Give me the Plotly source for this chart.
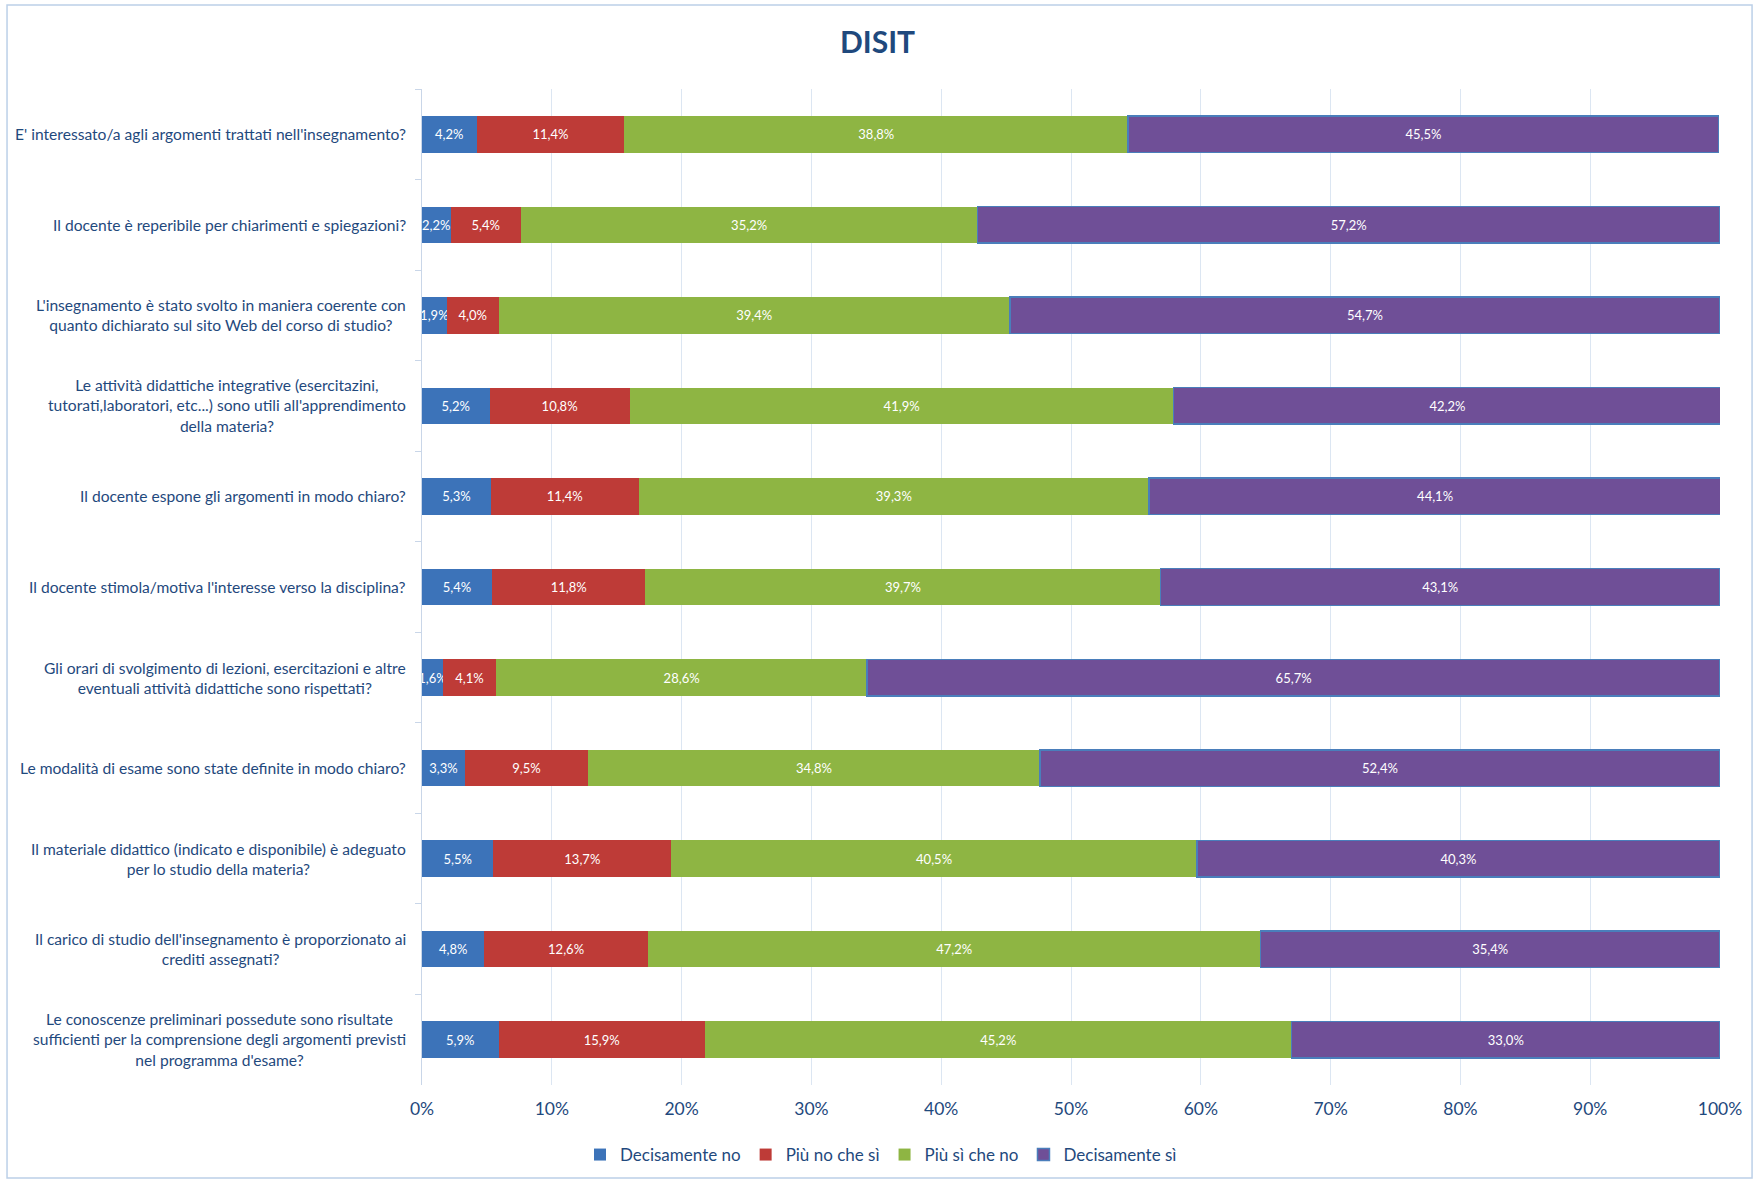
import plotly.graph_objects as go

categories = [
    "E' interessato/a agli argomenti trattati nell'insegnamento?",
    "Il docente è reperibile per chiarimenti e spiegazioni?",
    "L'insegnamento è stato svolto in maniera coerente con<br>quanto dichiarato sul sito Web del corso di studio?",
    "Le attività didattiche integrative (esercitazini,<br>tutorati,laboratori, etc...) sono utili all'apprendimento<br>della materia?",
    "Il docente espone gli argomenti in modo chiaro?",
    "Il docente stimola/motiva l'interesse verso la disciplina?",
    "Gli orari di svolgimento di lezioni, esercitazioni e altre<br>eventuali attività didattiche sono rispettati?",
    "Le modalità di esame sono state definite in modo chiaro?",
    "Il materiale didattico (indicato e disponibile) è adeguato<br>per lo studio della materia?",
    "Il carico di studio dell'insegnamento è proporzionato ai<br>crediti assegnati?",
    "Le conoscenze preliminari possedute sono risultate<br>sufficienti per la comprensione degli argomenti previsti<br>nel programma d'esame?",
]

decisamente_no = [4.2, 2.2, 1.9, 5.2, 5.3, 5.4, 1.6, 3.3, 5.5, 4.8, 5.9]
piu_no_che_si = [11.4, 5.4, 4.0, 10.8, 11.4, 11.8, 4.1, 9.5, 13.7, 12.6, 15.9]
piu_si_che_no = [38.8, 35.2, 39.4, 41.9, 39.3, 39.7, 28.6, 34.8, 40.5, 47.2, 45.2]
decisamente_si = [45.5, 57.2, 54.7, 42.2, 44.1, 43.1, 65.7, 52.4, 40.3, 35.4, 33.0]

series_names = ["Decisamente no", "Più no che sì", "Più sì che no", "Decisamente sì"]
series_values = [decisamente_no, piu_no_che_si, piu_si_che_no, decisamente_si]
colors = ["#3C73B9", "#BE3B37", "#8EB543", "#6F4F97"]
line_colors = [None, None, None, "#4A7EBB"]

TEXT = "#1F497D"
FONT = "Lato"

fig = go.Figure()
for name, vals, col, lc in zip(series_names, series_values, colors, line_colors):
    fig.add_trace(go.Bar(
        name=name,
        y=categories,
        x=vals,
        orientation="h",
        marker=dict(color=col, line=dict(color=lc if lc else col, width=1.5 if lc else 0)),
        texttemplate="%{x:.1f}%",
        textposition="inside",
        insidetextanchor="middle",
        textangle=0,
        textfont=dict(family=FONT, size=13, color="white"),
        cliponaxis=True,
    ))

for cat in categories:
    fig.add_annotation(
        x=0, xref="paper", y=cat, yref="y",
        text=cat, showarrow=False,
        xanchor="right", yanchor="middle", align="center",
        xshift=-14,
        font=dict(family=FONT, size=15.6, color=TEXT),
    )

fig.add_shape(type="rect", xref="paper", yref="paper",
              x0=-0.3197, x1=1.0247, y0=-0.0934, y1=1.0843,
              line=dict(color="#BCD0E8", width=1.5), fillcolor="rgba(0,0,0,0)", layer="below")

fig.update_layout(
    width=1755, height=1180,
    margin=dict(l=422, r=35, t=89, b=95),
    paper_bgcolor="white", plot_bgcolor="white",
    barmode="stack", bargap=0.596,
    separators=",.",
    uniformtext=dict(minsize=13, mode="show"),
    title=dict(text="<b>DISIT</b>", x=0.5, xref="container", xanchor="center",
               y=1 - 42.5 / 1180, yref="container", yanchor="middle",
               font=dict(family=FONT, size=30, color=TEXT)),
    font=dict(family=FONT, color=TEXT),
    showlegend=True,
    legend=dict(orientation="h", x=0.502, xanchor="center", xref="container",
                y=1 - 1155 / 1180, yanchor="middle", yref="container",
                font=dict(family=FONT, size=17, color=TEXT),
                itemwidth=30, traceorder="normal"),
    xaxis=dict(range=[0, 100], dtick=10, ticksuffix="%", showgrid=True,
               gridcolor="#DCE6F2", gridwidth=1, zeroline=False, showline=False,
               ticks="", ticklabelstandoff=11,
               tickfont=dict(family=FONT, size=17.5, color=TEXT)),
    yaxis=dict(autorange="reversed", showticklabels=False, ticks="outside",
               tickson="boundaries", ticklen=6, tickcolor="#C9D6E8",
               showline=True, linecolor="#C9D6E8", linewidth=1, showgrid=False,
               zeroline=False),
)

fig.write_html("out.html", config={"displayModeBar": False},
               post_script="document.body.style.margin='0';document.body.style.overflow='hidden';")
